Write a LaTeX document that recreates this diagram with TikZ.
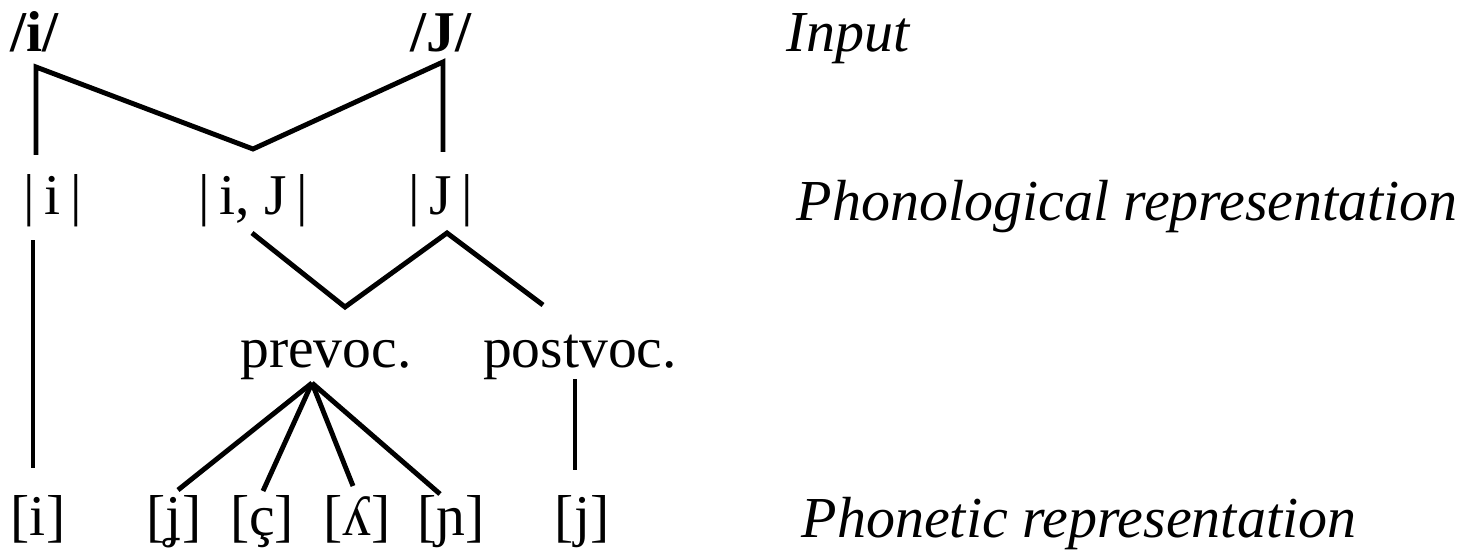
\documentclass[tikz,border=0pt]{standalone}
\usepackage{fontspec}
\setmainfont{Liberation Serif}
\usetikzlibrary{positioning}

\begin{document}
\begin{tikzpicture}[x=0.1mm,y=-0.1mm,font=\fontsize{16.4}{19}\selectfont]
\tikzstyle{seg}=[anchor=base, inner sep=0pt]
\tikzstyle{level}=[anchor=base west, inner sep=0pt, font=\fontsize{16.5}{19}\selectfont\itshape]
\tikzstyle{connect}=[line width=1.4pt]

	\useasboundingbox (0,0) rectangle (1460,551);

	% input
	\node[seg] (in-i) at (35,52) {\textbf{/i/}};
	\node[seg] (in-J) at (441,52) {\textbf{/J/}};
	\node[level] (lev-in) at (786,52) {Input};

	% phonological
	\node[seg] (ph-i) at (53,214) {|\,i\,|};
	\node[seg] (ph-iJ) at (253,214) {|\,i, J\,|};
	\node[seg] (ph-J) at (441,214) {|\,J\,|};
	\node[level] (lev-ph) at (796,220) {Phonological representation};

	% contexts
	\node[seg] (pre) at (326,367) {prevoc.};
	\node[seg] (post) at (580,367) {postvoc.};

	% phonetic
	\node[seg] (out-i) at (38,535) {[i]};
	\node[seg] (out-jj) at (174,535) {[ʝ]};
	\node[seg] (out-c) at (262,535) {[ç]};
	\node[seg] (out-l) at (357,535) {[ʎ]};
	\node[seg] (out-n) at (451,535) {[ɲ]};
	\node[seg] (out-j) at (582,535) {[j]};
	\node[level] (lev-pt) at (801,537) {Phonetic representation};

	% attachment points
	\coordinate (in-i-b) at (36,67);
	\coordinate (in-J-b) at (443,62);
	\coordinate (ph-i-t) at (36,155);
	\coordinate (ph-iJ-t) at (253,149);
	\coordinate (ph-J-t) at (443,152);
	\coordinate (ph-i-b) at (33,240);
	\coordinate (ph-iJ-b) at (252,233);
	\coordinate (ph-J-b) at (447,233);
	\coordinate (pre-t) at (345,307);
	\coordinate (post-t) at (543,305);
	\coordinate (pre-b) at (312,383);
	\coordinate (post-b) at (575,379);
	\coordinate (out-i-t) at (33,468);
	\coordinate (out-jj-t) at (178,490);
	\coordinate (out-c-t) at (263,491);
	\coordinate (out-l-t) at (353,486);
	\coordinate (out-n-t) at (440,494);
	\coordinate (out-j-t) at (575,470);

	\draw[connect] (ph-i-t) -- (in-i-b) -- (ph-iJ-t) -- (in-J-b) -- (ph-J-t);
	\draw[connect] (ph-iJ-b) -- (pre-t) -- (ph-J-b) -- (post-t);

	\path[connect]
		(ph-i-b) edge [] (out-i-t)
		(pre-b) edge [] (out-jj-t)
		(pre-b) edge [] (out-c-t)
		(pre-b) edge [] (out-l-t)
		(pre-b) edge [] (out-n-t)
		(post-b) edge [] (out-j-t);

\end{tikzpicture}
\end{document}
